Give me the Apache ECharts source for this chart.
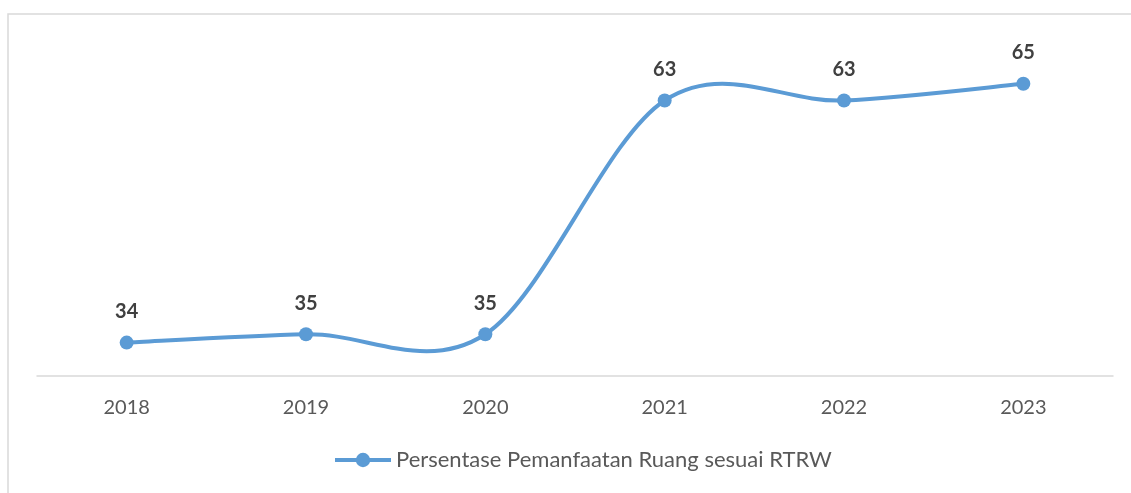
<!DOCTYPE html>
<html>
<head>
<meta charset="utf-8">
<script src="https://cdn.jsdelivr.net/npm/echarts@6/dist/echarts.min.js"></script>
<style>
  html, body { margin: 0; padding: 0; background: #fff; }
  #chart { width: 1131px; height: 493px; }
</style>
</head>
<body>
<div id="chart"></div>
<script>
// data
var years = ['2018', '2019', '2020', '2021', '2022', '2023'];
var persentase = [34, 35, 35, 63, 63, 65];
var seriesName = 'Persentase Pemanfaatan Ruang sesuai RTRW';

var lineColor = '#5b9bd5';
var fontName = 'Lato, "Open Sans", sans-serif';

var myChart = echarts.init(document.getElementById('chart'));

// Excel-style smoothed segment (Catmull-Rom through the data points)
function renderSegment(params, api) {
    var i = params.dataIndex;
    var n = persentase.length;
    if (i >= n - 1) return null;
    var p0 = api.coord([Math.max(i - 1, 0), persentase[Math.max(i - 1, 0)]]);
    var p1 = api.coord([i, persentase[i]]);
    var p2 = api.coord([i + 1, persentase[i + 1]]);
    var p3 = api.coord([Math.min(i + 2, n - 1), persentase[Math.min(i + 2, n - 1)]]);
    return {
        type: 'bezierCurve',
        shape: {
            x1: p1[0], y1: p1[1],
            x2: p2[0], y2: p2[1],
            cpx1: p1[0] + (p2[0] - p0[0]) / 6,
            cpy1: p1[1] + (p2[1] - p0[1]) / 6,
            cpx2: p2[0] - (p3[0] - p1[0]) / 6,
            cpy2: p2[1] - (p3[1] - p1[1]) / 6
        },
        style: { fill: null, stroke: lineColor, lineWidth: 4, lineCap: 'round' },
        silent: true
    };
}

var option = {
    backgroundColor: '#fff',
    textStyle: { fontFamily: fontName },
    graphic: [
        {
            type: 'rect',
            shape: { x: 8, y: 14, width: 1140, height: 500 },
            style: { fill: 'none', stroke: '#d9d9d9', lineWidth: 1.5 },
            silent: true
        }
    ],
    grid: { left: 37, right: 18, top: 42, bottom: 117 },
    legend: {
        data: [seriesName],
        bottom: 17,
        left: 328,
        itemWidth: 56,
        itemHeight: 18,
        itemGap: 4,
        lineStyle: { color: lineColor, width: 4, opacity: 1 },
        textStyle: { color: '#595959', fontSize: 22, fontFamily: fontName }
    },
    xAxis: {
        type: 'category',
        data: years,
        boundaryGap: true,
        axisLine: { lineStyle: { color: '#d9d9d9', width: 1.5 } },
        axisTick: { show: false },
        axisLabel: { color: '#595959', fontSize: 20, margin: 22, fontFamily: fontName }
    },
    yAxis: {
        type: 'value',
        min: 30,
        max: 70,
        show: false,
        splitLine: { show: false }
    },
    series: [
        {
            name: 'smooth',
            type: 'custom',
            renderItem: renderSegment,
            data: persentase.map(function (v, i) { return [i, v]; }),
            z: 1
        },
        {
            name: seriesName,
            type: 'line',
            data: persentase,
            symbol: 'circle',
            symbolSize: 14,
            color: lineColor,
            lineStyle: { width: 4, color: lineColor, opacity: 0 },
            z: 2,
            label: {
                show: true,
                position: 'top',
                distance: 14,
                color: '#404040',
                fontSize: 20,
                fontWeight: 'bold',
                fontFamily: fontName
            }
        }
    ]
};

myChart.setOption(option);
</script>
</body>
</html>
